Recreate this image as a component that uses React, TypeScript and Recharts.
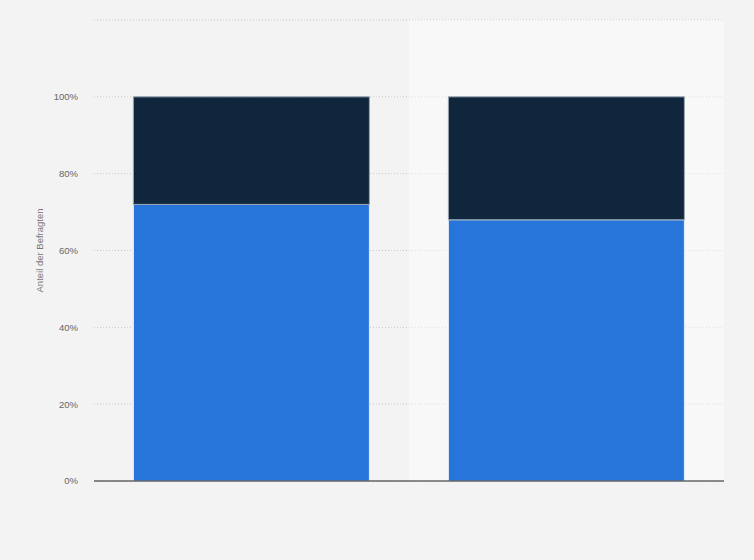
import { BarChart, Bar, XAxis, YAxis, CartesianGrid, ReferenceArea, Label } from "recharts"

const categories = ["A", "B"]
const lowerShare = [72, 68]
const upperShare = [28, 32]
const yTicks = [0, 20, 40, 60, 80, 100, 120]

const data = categories.map((name, i) => ({
  name,
  lower: lowerShare[i],
  upper: upperShare[i],
}))

export default function App() {
  return (
    <div style={{ position: "absolute", left: 0, top: 0, width: 754, height: 560, background: "#f3f3f3" }}>
      <BarChart
        width={754}
        height={560}
        data={data}
        margin={{ top: 20, right: 30, bottom: 78, left: 0 }}
        barCategoryGap="12.5%"
      >
        <ReferenceArea x1="B" x2="B" fill="#ffffff" fillOpacity={0.4} stroke="none" />
        <CartesianGrid vertical={false} stroke="#c8c8c8" strokeDasharray="1 2" />
        <XAxis
          dataKey="name"
          tick={false}
          tickLine={false}
          axisLine={{ stroke: "#222", strokeWidth: 1.2 }}
          height={1}
        />
        <YAxis
          width={94}
          domain={[0, 120]}
          ticks={yTicks}
          interval={0}
          tickFormatter={(v: number) => (v === 120 ? "" : `${v}%`)}
          tick={{ fill: "#666", fontSize: 9.5, fontFamily: "Arial, Liberation Sans, sans-serif" }}
          tickLine={false}
          axisLine={false}
          tickSize={0}
          tickMargin={16}
        >
          <Label
            value="Anteil der Befragten"
            angle={-90}
            position="insideLeft"
            offset={40}
            style={{ fill: "#777", fontSize: 9.5, fontFamily: "Arial, Liberation Sans, sans-serif", textAnchor: "middle" }}
          />
        </YAxis>
        <Bar dataKey="lower" stackId="s" fill="#2775db" stroke="#e6eef8" strokeWidth={1} isAnimationActive={false} />
        <Bar dataKey="upper" stackId="s" fill="#10263c" stroke="#9aa6b2" strokeWidth={1} isAnimationActive={false} />
      </BarChart>
    </div>
  )
}
